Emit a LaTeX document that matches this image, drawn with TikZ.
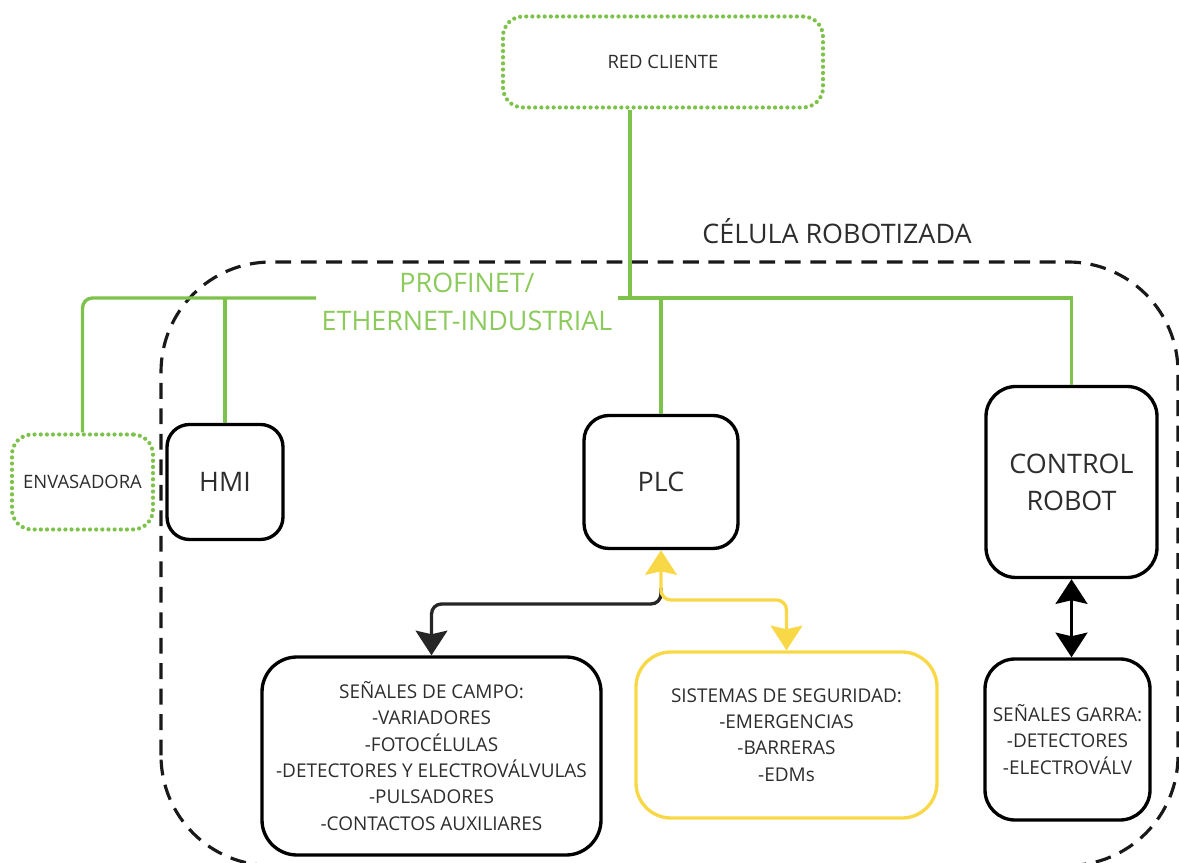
\documentclass[tikz,border=0pt]{standalone}
\usepackage{fontspec}
\setmainfont{Open Sans}
\usetikzlibrary{arrows.meta}

\definecolor{netgreen}{RGB}{125,194,75}
\definecolor{labelgreen}{RGB}{140,202,92}
\definecolor{safeyellow}{RGB}{249,216,72}
\definecolor{inkgrey}{RGB}{45,45,45}

\begin{document}
\begin{tikzpicture}[
	device/.style={draw=black, line width=1.9pt, rounded corners=0.5cm, align=center, text=inkgrey, font=\fontsize{15.3}{21}\selectfont},
	iobox/.style={draw=black, line width=1.9pt, rounded corners=0.7cm, align=center, text=inkgrey, font=\fontsize{10.8}{15}\selectfont},
	extern/.style={draw=netgreen, line width=2.4pt, dash pattern=on 0pt off 3.5pt, line cap=round, rounded corners=0.4cm, align=center, text=inkgrey, font=\fontsize{10.5}{15}\selectfont},
	bus/.style={netgreen, line width=1.9pt},
	>={Stealth[length=14pt,width=18pt,inset=2pt]}
	]
	\useasboundingbox (0,0) rectangle (23.58,17.26);
	
	%-----------------------
	% Row heights
	%-----------------------
	\def\hred{16.02}   % client network
	\def\hbus{11.30}   % profinet bus
	\def\hdev{7.62}    % HMI, PLC, robot controller
	
	%-----------------------
	% Cell boundary
	%-----------------------
	\draw[black!90, line width=1.8pt, dash pattern=on 9pt off 5.5pt, rounded corners=2.2cm]
		(3.22,-0.05) rectangle (23.56,12.02);
	\node[text=inkgrey, font=\fontsize{15.3}{21}\selectfont] (cell) at (16.74,12.64) {CÉLULA ROBOTIZADA};
	
	%-----------------------
	% Network side
	%-----------------------
	\node[extern, minimum width=6.4cm, minimum height=1.82cm] (redcliente) at (13.26,\hred) {RED CLIENTE};
	\node[extern, minimum width=2.82cm, minimum height=1.9cm] (envasadora) at (1.65,\hdev) {ENVASADORA};
	\node[text=labelgreen, align=center, font=\fontsize{15.3}{21.5}\selectfont, inner sep=3pt] (profinet) at (9.34,11.22) {PROFINET/\\ETHERNET-INDUSTRIAL};
	\coordinate (tap) at (12.60,\hbus);
	
	%-----------------------
	% Devices
	%-----------------------
	\node[device, minimum width=2.32cm, minimum height=2.3cm, rounded corners=0.45cm] (hmi) at (4.50,\hdev) {HMI};
	\node[device, minimum width=3.08cm, minimum height=2.66cm] (plc) at (13.22,\hdev) {PLC};
	\node[device, minimum width=3.42cm, minimum height=3.82cm, rounded corners=0.6cm] (robot) at (21.43,\hdev) {CONTROL\\ROBOT};
	
	%-----------------------
	% Field signals
	%-----------------------
	\node[iobox, minimum width=6.78cm, minimum height=3.96cm] (campo) at (8.63,2.14)
		{SEÑALES DE CAMPO:\\-VARIADORES\\-FOTOCÉLULAS\\-DETECTORES Y ELECTROVÁLVULAS\\-PULSADORES\\-CONTACTOS AUXILIARES};
	\node[iobox, draw=safeyellow, minimum width=6.02cm, minimum height=3.32cm] (seguridad) at (15.73,2.56)
		{SISTEMAS DE SEGURIDAD:\\-EMERGENCIAS\\-BARRERAS\\-EDMs};
	\node[iobox, minimum width=3.30cm, minimum height=3.22cm, rounded corners=0.6cm] (garra) at (21.35,2.47)
		{SEÑALES GARRA:\\-DETECTORES\\-ELECTROVÁLV};
	
	%-----------------------
	% Bus connections
	%-----------------------
	\draw[bus, rounded corners=0.2cm] (envasadora.north) |- (profinet.west |- tap);
	\draw[bus] (hmi.north) -- (hmi.north |- tap);
	\draw[bus] (redcliente.south -| tap) -- (tap);
	\draw[bus] (profinet.east |- tap) -- (robot.north |- tap) -- (robot.north);
	\draw[bus] (plc.north) -- (plc.north |- tap);
	
	%-----------------------
	% Signal wiring
	%-----------------------
	\coordinate (forkB) at (13.22,5.18);
	\coordinate (forkY) at (13.22,5.26);
	
	% PLC -> field signals
	\draw[->, line width=1.9pt, black!85, rounded corners=0.2cm] (plc.south |- 0,5.5) -- (forkB) -| (campo.north);
	% PLC <-> safety
	\draw[<->, line width=1.9pt, safeyellow, rounded corners=0.2cm] (plc.south) -- (forkY) -| (seguridad.north);
	% robot <-> gripper
	\draw[<->, line width=2.2pt, black] (robot.south) -- (robot.south |- garra.north);
	
\end{tikzpicture}
\end{document}
